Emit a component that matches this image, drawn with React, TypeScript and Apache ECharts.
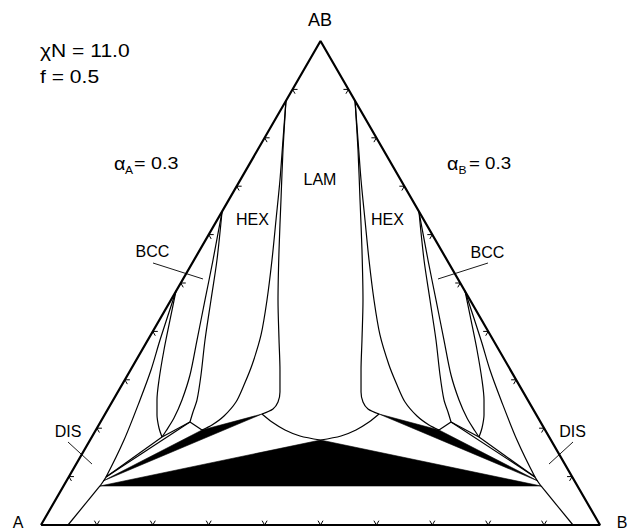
import React, { useEffect, useRef } from 'react';
import * as echarts from 'echarts';

// Coordinates: [x, h] where x runs A(0) -> B(1) along the base and h is the AB fraction (apex = 1).
const tickFractions = [0.1, 0.2, 0.3, 0.4, 0.5, 0.6, 0.7, 0.8, 0.9];

const outerTriangle = [[0, 0], [1, 0], [0.5, 1], [0, 0]];

// Left (A-rich) side
const disLowerL = [[0.0483, 0], [0.1055, 0.0806]];
const disUpperL = [[0.1055, 0.0806], [0.1163, 0.0992], [0.1485, 0.1756], [0.1771, 0.2583], [0.1968, 0.3202], [0.2129, 0.3822], [0.2415, 0.4835]];
const bccDisL = [[0.2415, 0.4835], [0.2308, 0.4236], [0.22, 0.3616], [0.2111, 0.2996], [0.2075, 0.2583], [0.2075, 0.2273], [0.2111, 0.2004], [0.2165, 0.1818]];
const bccHexL = [[0.3238, 0.6467], [0.3077, 0.5475], [0.2934, 0.4649], [0.2791, 0.3822], [0.2665, 0.3099], [0.2522, 0.2583], [0.2379, 0.2211], [0.2236, 0.1942], [0.2165, 0.1818]];
const hexBccL = [[0.3238, 0.6467], [0.3148, 0.5475], [0.3041, 0.4649], [0.2934, 0.3822], [0.2862, 0.3099], [0.2791, 0.2583], [0.2719, 0.2335], [0.2665, 0.2128]];
const hexLamL = [[0.4383, 0.8781], [0.4329, 0.7955], [0.4275, 0.7128], [0.4204, 0.6302], [0.4132, 0.5475], [0.4043, 0.4649], [0.3936, 0.3926], [0.3775, 0.3306], [0.3631, 0.2893], [0.3488, 0.2541], [0.3274, 0.2252], [0.3059, 0.2066], [0.288, 0.1963]];
const lamHexL = [[0.4383, 0.8781], [0.4329, 0.7748], [0.4293, 0.6715], [0.4258, 0.5682], [0.424, 0.4649], [0.4258, 0.3822], [0.4275, 0.3202], [0.4275, 0.2748], [0.424, 0.2541], [0.415, 0.2397], [0.3953, 0.2293]];
const lamBaseL = [[0.3953, 0.2293], [0.4132, 0.2128], [0.4365, 0.1963], [0.4633, 0.1839], [0.5, 0.1756]];
const tieLinesL = [
  [[0.1163, 0.0992], [0.2165, 0.1818]],
  [[0.1163, 0.0992], [0.2665, 0.2128]],
  [[0.2165, 0.1818], [0.2665, 0.2128]],
  [[0.2665, 0.2128], [0.288, 0.1963]],
];
const sliverL = [[0.1109, 0.0909], [0.288, 0.1963], [0.3953, 0.2293]];

// Right (B-rich) side
const disLowerR = [[0.9517, 0], [0.8945, 0.0806]];
const disUpperR = [[0.8945, 0.0806], [0.8837, 0.0992], [0.8515, 0.1756], [0.8229, 0.2583], [0.8032, 0.3202], [0.7871, 0.3822], [0.7585, 0.4835]];
const bccDisR = [[0.7585, 0.4835], [0.7692, 0.4236], [0.78, 0.3616], [0.7889, 0.2996], [0.7925, 0.2583], [0.7925, 0.2273], [0.7889, 0.2004], [0.7835, 0.1818]];
const bccHexR = [[0.6762, 0.6467], [0.6923, 0.5475], [0.7066, 0.4649], [0.7209, 0.3822], [0.7335, 0.3099], [0.7478, 0.2583], [0.7621, 0.2211], [0.7764, 0.1942], [0.7835, 0.1818]];
const hexBccR = [[0.6762, 0.6467], [0.6852, 0.5475], [0.6959, 0.4649], [0.7066, 0.3822], [0.7138, 0.3099], [0.7209, 0.2583], [0.7281, 0.2335], [0.7335, 0.2128]];
const hexLamR = [[0.5617, 0.8781], [0.5671, 0.7955], [0.5725, 0.7128], [0.5796, 0.6302], [0.5868, 0.5475], [0.5957, 0.4649], [0.6064, 0.3926], [0.6225, 0.3306], [0.6369, 0.2893], [0.6512, 0.2541], [0.6726, 0.2252], [0.6941, 0.2066], [0.712, 0.1963]];
const lamHexR = [[0.5617, 0.8781], [0.5671, 0.7748], [0.5707, 0.6715], [0.5742, 0.5682], [0.576, 0.4649], [0.5742, 0.3822], [0.5725, 0.3202], [0.5725, 0.2748], [0.576, 0.2541], [0.585, 0.2397], [0.6047, 0.2293]];
const lamBaseR = [[0.6047, 0.2293], [0.5868, 0.2128], [0.5635, 0.1963], [0.5367, 0.1839], [0.5, 0.1756]];
const tieLinesR = [
  [[0.8837, 0.0992], [0.7835, 0.1818]],
  [[0.8837, 0.0992], [0.7335, 0.2128]],
  [[0.7835, 0.1818], [0.7335, 0.2128]],
  [[0.7335, 0.2128], [0.712, 0.1963]],
];
const sliverR = [[0.8891, 0.0909], [0.712, 0.1963], [0.6047, 0.2293]];

// Central three-phase region (DIS + LAM + DIS)
const bigTriangle = [[0.1055, 0.0806], [0.5, 0.1756], [0.8945, 0.0806]];

// Label pointers
const pointers = [
  [[0.2004, 0.5413], [0.2898, 0.5083]],
  [[0.7996, 0.5413], [0.7102, 0.5083]],
  [[0.0483, 0.1715], [0.0912, 0.126]],
  [[0.9517, 0.1715], [0.9088, 0.126]],
];

const FONT = '"Liberation Sans", Arial, Helvetica, sans-serif';

export default function App() {
  const ref = useRef<HTMLDivElement>(null);

  useEffect(() => {
    if (!ref.current) return;
    const chart = echarts.init(ref.current, null, { renderer: 'svg' });

    const line = (data: number[][], width = 1.2, smooth: boolean | number = 0.3) => ({
      type: 'line',
      data,
      showSymbol: false,
      symbol: 'none',
      smooth,
      clip: false,
      silent: true,
      lineStyle: { color: '#000', width },
      z: 3,
    });

    const curves = [disUpperL, bccDisL, bccHexL, hexBccL, hexLamL, lamHexL, lamBaseL,
      disUpperR, bccDisR, bccHexR, hexBccR, hexLamR, lamHexR, lamBaseR];
    const straights = [disLowerL, disLowerR, ...tieLinesL, ...tieLinesR];

    const blackRegions = [bigTriangle, sliverL, sliverR];

    const tickData: number[][] = [
      ...tickFractions.map((t) => [t, 0, 0]),
      ...tickFractions.map((t) => [t / 2, t, 1]),
      ...tickFractions.map((t) => [1 - t / 2, t, 2]),
    ];
    const tickDirs = [
      [[0.5, -0.866], [-0.5, -0.866]],
      [[1, 0], [0.5, 0.866]],
      [[-1, 0], [-0.5, 0.866]],
    ];

    const txt = (text: string, x: number, y: number, fontSize: number, align = 'center', scaleX = 1) => ({
      type: 'text',
      x,
      y,
      scaleX,
      silent: true,
      style: { text, fontSize, fontFamily: FONT, fill: '#000', align, verticalAlign: 'middle' },
      z: 10,
    });

    chart.setOption({
      animation: false,
      backgroundColor: '#fff',
      grid: { left: 41, right: 28, top: 41, bottom: 6, containLabel: false },
      xAxis: { type: 'value', min: 0, max: 1, show: false },
      yAxis: { type: 'value', min: 0, max: 1, show: false },
      series: [
        {
          type: 'custom',
          coordinateSystem: 'cartesian2d',
          silent: true,
          clip: false,
          data: blackRegions.map((p) => p[0]),
          renderItem: (params: any, api: any) => {
            const poly = blackRegions[params.dataIndex];
            return {
              type: 'polygon',
              shape: { points: poly.map((p) => api.coord(p)) },
              style: { fill: '#000', stroke: '#000', lineWidth: 0.6 },
            };
          },
          z: 2,
        },
        ...curves.map((c) => line(c, 1.2, 0.3)),
        ...straights.map((c) => line(c, 1.2, false)),
        ...pointers.map((c) => line(c, 0.9, false)),
        line(outerTriangle, 2.2, false),
        {
          type: 'custom',
          coordinateSystem: 'cartesian2d',
          silent: true,
          clip: false,
          data: tickData,
          encode: { x: 0, y: 1 },
          renderItem: (params: any, api: any) => {
            const p = api.coord([api.value(0), api.value(1)]);
            const d = tickDirs[api.value(2)];
            const L = 5;
            return {
              type: 'polyline',
              shape: {
                points: [
                  [p[0] + d[0][0] * L, p[1] + d[0][1] * L],
                  [p[0], p[1]],
                  [p[0] + d[1][0] * L, p[1] + d[1][1] * L],
                ],
              },
              style: { stroke: '#000', fill: 'none', lineWidth: 1 },
            };
          },
          z: 4,
        },
      ],
      graphic: [
        txt('χN = 11.0', 40, 51, 18, 'left', 1.17),
        txt('f = 0.5', 40, 77, 18, 'left', 1.17),
        txt('α', 114, 164, 18, 'left', 1.1),
        txt('A', 125, 170, 10.5, 'left', 1.15),
        txt('= 0.3', 134, 163, 17, 'left', 1.16),
        txt('α', 447, 164, 18, 'left', 1.1),
        txt('B', 458.5, 170, 10.5, 'left', 1.15),
        txt('= 0.3', 469, 163, 17, 'left', 1.1),
        txt('AB', 320, 20, 18),
        txt('A', 18, 522, 16),
        txt('B', 622, 522, 16),
        txt('LAM', 320, 179, 16),
        txt('HEX', 252.5, 219, 16),
        txt('HEX', 387.5, 219, 16),
        txt('BCC', 152.5, 251, 16),
        txt('BCC', 487.5, 252, 16),
        txt('DIS', 68, 431, 16),
        txt('DIS', 572.5, 431, 16),
      ],
    });

    return () => chart.dispose();
  }, []);

  return (
    <div
      ref={ref}
      style={{ position: 'fixed', left: 0, top: 0, width: 628, height: 531, background: '#fff' }}
    />
  );
}
